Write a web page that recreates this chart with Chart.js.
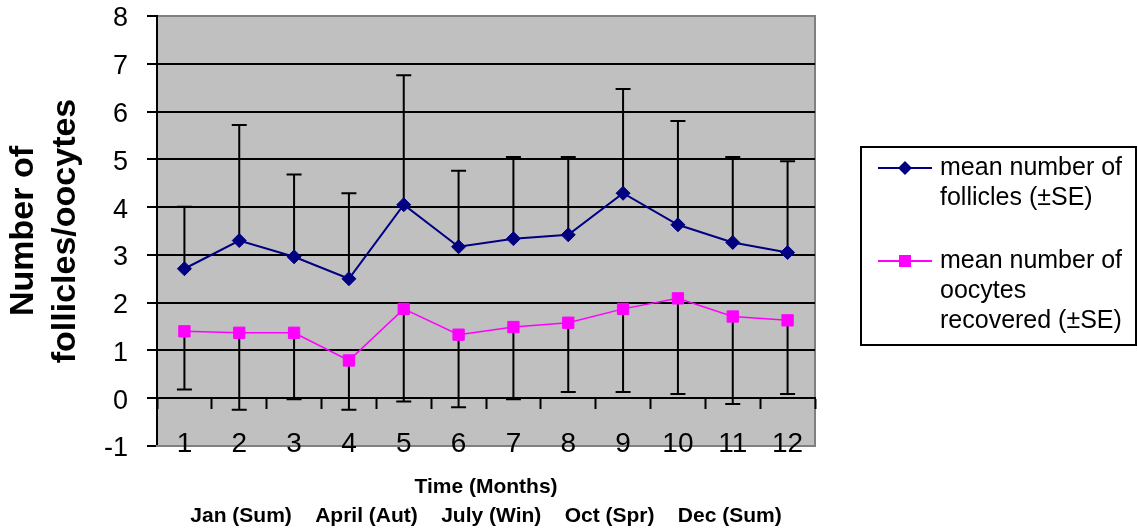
<!DOCTYPE html>
<html lang="en">
<head>
  <meta charset="UTF-8" />
  <title>Follicles and oocytes by month</title>
  <script src="https://cdn.jsdelivr.net/npm/chart.js"></script>
  <style>
    body {
      margin: 0;
      padding: 0;
      background: #fff;
    }
    canvas {
      display: block;
    }
  </style>
</head>
<body>
  <canvas id="chart" width="1138" height="531"></canvas>

  <script>
    // Data
    const months = ['1', '2', '3', '4', '5', '6', '7', '8', '9', '10', '11', '12'];
    const follicles = [2.71, 3.30, 2.96, 2.50, 4.05, 3.17, 3.34, 3.42, 4.29, 3.63, 3.26, 3.05];
    const folliclesSE = [1.30, 2.42, 1.72, 1.79, 2.71, 1.59, 1.71, 1.63, 2.18, 2.17, 1.79, 1.91];
    const oocytes = [1.40, 1.37, 1.37, 0.79, 1.87, 1.33, 1.49, 1.58, 1.87, 2.09, 1.71, 1.63];
    const oocytesSE = [1.22, 1.61, 1.39, 1.03, 1.94, 1.52, 1.51, 1.45, 1.74, 2.00, 1.83, 1.54];
    const yTicks = [-1, 0, 1, 2, 3, 4, 5, 6, 7, 8];

    const legendLabels = [
      ['mean number of', 'follicles (\u00B1SE)'],
      ['mean number of', 'oocytes', 'recovered (\u00B1SE)']
    ];
    const yTitle = ['Number of', 'follicles/oocytes'];
    const xTitle = ['Time (Months)', 'Jan (Sum)    April (Aut)    July (Win)    Oct (Spr)    Dec (Sum)'];

    const FONT = "'Liberation Sans', Arial, sans-serif";

    // gray plot area with thin gray frame
    const plotBackground = {
      id: 'plotBackground',
      beforeDraw(chart) {
        const { ctx, chartArea: a } = chart;
        ctx.save();
        ctx.fillStyle = '#C0C0C0';
        ctx.fillRect(a.left, a.top, a.right - a.left, a.bottom - a.top);
        ctx.strokeStyle = '#808080';
        ctx.lineWidth = 2;
        ctx.strokeRect(a.left, a.top, a.right - a.left, a.bottom - a.top);
        ctx.restore();
      }
    };

    // one-sided error bars: follicles up, oocytes down
    const errorBars = {
      id: 'errorBars',
      beforeDatasetsDraw(chart) {
        const { ctx } = chart;
        const xs = chart.scales.x, ys = chart.scales.y;
        ctx.save();
        ctx.strokeStyle = '#000';
        ctx.lineWidth = 2;
        chart.data.datasets.forEach(ds => {
          ds.data.forEach((v, i) => {
            const x = xs.getPixelForValue(i);
            const y0 = ys.getPixelForValue(v);
            const y1 = ys.getPixelForValue(v + ds.errDir * ds.se[i]);
            ctx.beginPath();
            ctx.moveTo(x, y0);
            ctx.lineTo(x, y1);
            ctx.moveTo(x - 7.5, y1);
            ctx.lineTo(x + 7.5, y1);
            ctx.stroke();
          });
        });
        ctx.restore();
      }
    };

    function drawMarker(ctx, style, x, y, color) {
      ctx.fillStyle = color;
      ctx.beginPath();
      if (style === 'rectRot') {
        ctx.moveTo(x, y - 7);
        ctx.lineTo(x + 7, y);
        ctx.lineTo(x, y + 7);
        ctx.lineTo(x - 7, y);
        ctx.closePath();
      } else {
        ctx.rect(x - 6, y - 6, 12, 12);
      }
      ctx.fill();
    }

    // boxed legend on the right, multi-line labels
    const boxLegend = {
      id: 'boxLegend',
      afterDraw(chart) {
        const { ctx } = chart;
        const left = 861, top = 147, w = 275, h = 198;
        ctx.save();
        ctx.strokeStyle = '#000';
        ctx.lineWidth = 2;
        ctx.strokeRect(left, top, w, h);
        ctx.font = '25px ' + FONT;
        ctx.textBaseline = 'middle';
        ctx.textAlign = 'left';
        let y = 168;
        chart.data.datasets.forEach((ds, i) => {
          ctx.strokeStyle = ds.borderColor;
          ctx.lineWidth = 2;
          ctx.beginPath();
          ctx.moveTo(878, y);
          ctx.lineTo(932, y);
          ctx.stroke();
          drawMarker(ctx, ds.pointStyle, 905, y, ds.borderColor);
          ctx.fillStyle = '#000';
          legendLabels[i].forEach((line, j) => {
            ctx.fillText(line, 940, y + j * 30);
          });
          y += 93;
        });
        ctx.restore();
      }
    };

    new Chart(document.getElementById('chart'), {
      type: 'line',
      data: {
        labels: months,
        datasets: [
          {
            label: legendLabels[0].join(' '),
            data: follicles,
            se: folliclesSE,
            errDir: 1,
            borderColor: '#000080',
            backgroundColor: '#000080',
            borderWidth: 2,
            pointStyle: 'rectRot',
            pointRadius: 7,
            pointBorderWidth: 1,
            tension: 0
          },
          {
            label: legendLabels[1].join(' '),
            data: oocytes,
            se: oocytesSE,
            errDir: -1,
            borderColor: '#FF00FF',
            backgroundColor: '#FF00FF',
            borderWidth: 1.5,
            pointStyle: 'rect',
            pointRadius: 8,
            pointBorderWidth: 1,
            tension: 0
          }
        ]
      },
      options: {
        responsive: false,
        animation: false,
        devicePixelRatio: 1,
        layout: { padding: { left: 0, right: 323, top: 0, bottom: 0 } },
        plugins: {
          legend: { display: false },
          tooltip: { enabled: false }
        },
        scales: {
          y: {
            min: -1,
            max: 8,
            afterBuildTicks(scale) {
              scale.ticks = yTicks.map(v => ({ value: v }));
            },
            afterFit(scale) {
              scale.width = 157;
              scale.paddingTop = 16;
              scale.paddingBottom = 0;
            },
            grid: {
              color: ctx => (ctx.tick && (ctx.tick.value === 8 || ctx.tick.value === -1)) ? '#808080' : '#000',
              tickColor: '#000',
              lineWidth: 2,
              tickLength: 10
            },
            border: { display: true, color: '#000', width: 2 },
            ticks: {
              color: '#000',
              padding: 19,
              labelOffset: 3,
              font: { family: FONT, size: 27 }
            },
            title: {
              display: true,
              text: yTitle,
              color: '#000',
              padding: { top: 3, bottom: 0 },
              font: { family: FONT, size: 34, weight: 'bold', lineHeight: 1.22 }
            }
          },
          x: {
            offset: true,
            afterFit(scale) {
              scale.height = 85;
              scale.paddingLeft = 0;
              scale.paddingRight = 0;
              // labels sit across the bottom edge of the plot, so don't clip them
              scale._computeLabelArea = () => undefined;
            },
            grid: { display: false },
            border: { display: true, color: '#808080', width: 2 },
            ticks: {
              color: '#000',
              padding: -27,
              maxRotation: 0,
              autoSkip: false,
              font: { family: FONT, size: 28 }
            },
            title: {
              display: true,
              text: xTitle,
              color: '#000',
              padding: { top: 11, bottom: 0 },
              font: { family: FONT, size: 21, weight: 'bold', lineHeight: 1.4 }
            }
          },
          x2: {
            axis: 'x',
            type: 'category',
            position: { y: 0 },
            offset: true,
            afterFit(scale) {
              scale.height = 0;
            },
            grid: {
              offset: true,
              drawOnChartArea: false,
              drawTicks: true,
              tickLength: 10,
              tickColor: '#000',
              tickWidth: 2
            },
            border: { display: true, color: '#000', width: 2 },
            ticks: { display: false }
          }
        }
      },
      plugins: [plotBackground, errorBars, boxLegend]
    });
  </script>
</body>
</html>
